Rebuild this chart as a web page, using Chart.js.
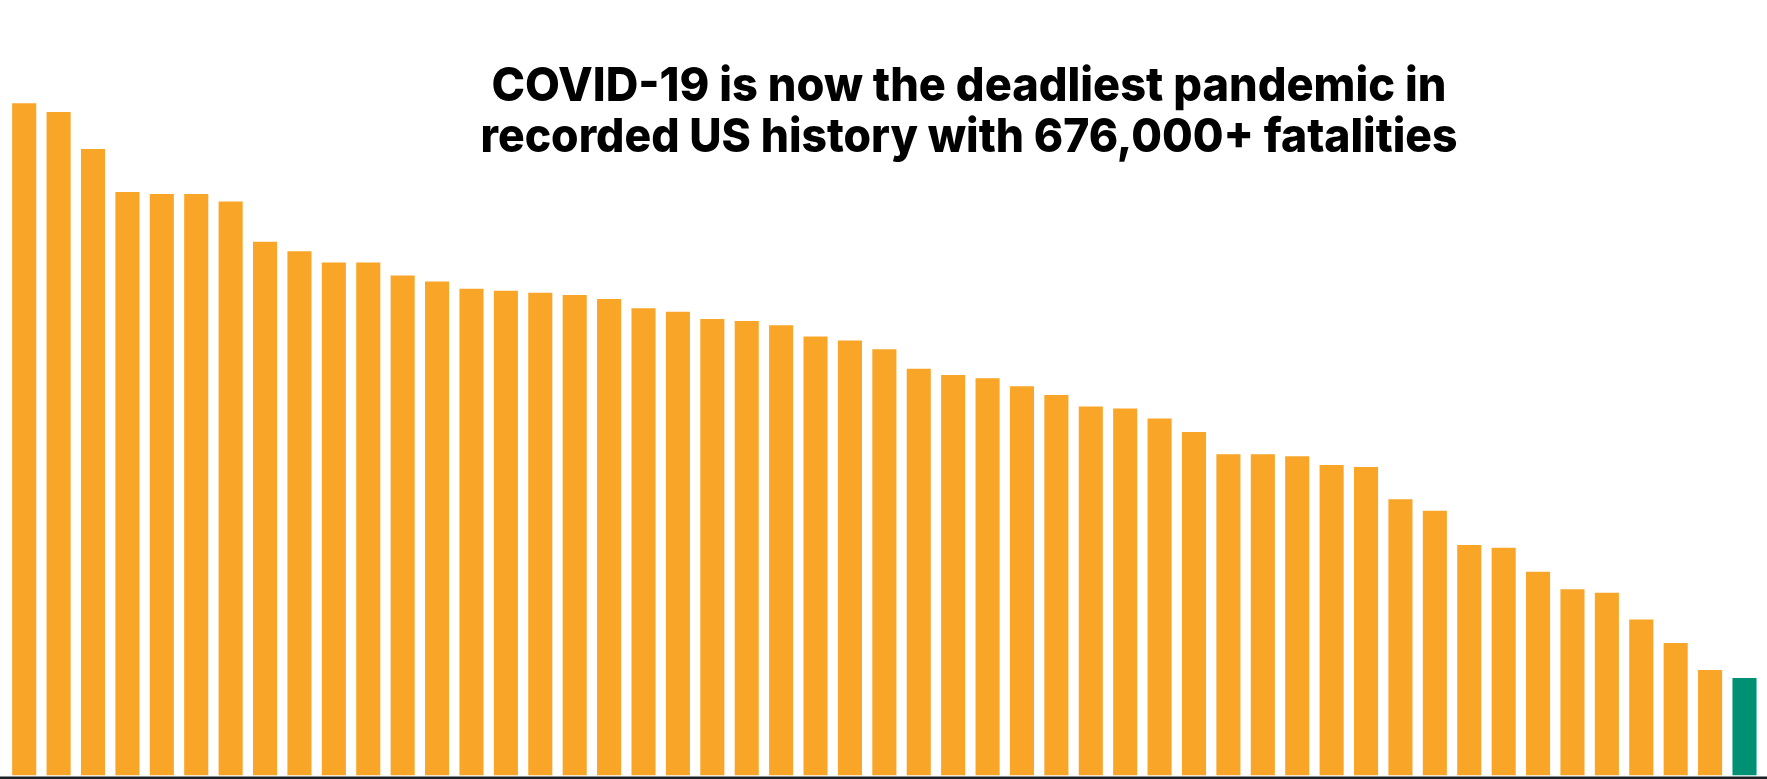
<!DOCTYPE html>
<html>
<head>
<meta charset="utf-8">
<script src="https://cdn.jsdelivr.net/npm/chart.js@4.4.1/dist/chart.umd.min.js"></script>
<style>
  html, body { margin: 0; padding: 0; background: #ffffff; }
  #wrap { position: relative; width: 1767px; height: 779px; overflow: hidden; }
  #c { position: absolute; left: 0; top: 0; }
  .tl {
    position: absolute; left: 269px; width: 1400px; text-align: center;
    font-family: Inter, "Open Sans", "DejaVu Sans", sans-serif; font-weight: 800;
    font-size: 47px; line-height: 47px; color: #000; white-space: nowrap;
    margin: 0; transform-origin: 50% 50%;
  }
  .tl span { display: inline-block; }
</style>
</head>
<body>
<div id="wrap">
  <canvas id="c" width="1767" height="779"></canvas>
  <div class="tl" id="t1" style="top:60px"><span>COVID-19 is now the deadliest pandemic in</span></div>
  <div class="tl" id="t2" style="top:111px"><span>recorded US history with 676,000+ fatalities</span></div>
</div>
<script>
// Categories (unlabelled in the original graphic)
const categories = ['1','2','3','4','5','6','7','8','9','10','11','12','13','14','15','16','17',
  '18','19','20','21','22','23','24','25','26','27','28','29','30','31','32','33','34',
  '35','36','37','38','39','40','41','42','43','44','45','46','47','48','49','50','51'];

// Relative bar values (tallest bar = 100)
const values = [100, 98.7, 93.2, 86.8, 86.5, 86.5, 85.4, 79.4, 78.0, 76.3, 76.3, 74.4, 73.5,
  72.4, 72.1, 71.8, 71.5, 70.9, 69.5, 69.0, 67.9, 67.6, 67.0, 65.3, 64.7, 63.4, 60.5,
  59.6, 59.1, 57.9, 56.6, 54.9, 54.6, 53.1, 51.1, 47.8, 47.8, 47.5, 46.2, 45.9, 41.1,
  39.4, 34.3, 33.9, 30.3, 27.7, 27.2, 23.2, 19.7, 15.7, 14.5];

// Which bars are highlighted (the last one)
const highlighted = ['51'];

const orange = '#F9A527';
const green = '#009174';
const barColors = categories.map(c => highlighted.includes(c) ? green : orange);

const baselinePlugin = {
  id: 'baseline',
  afterDatasetsDraw(chart) {
    const ctx = chart.ctx;
    const y = chart.scales.y.getPixelForValue(0);
    ctx.save();
    ctx.fillStyle = '#1c2126';
    ctx.fillRect(0, y + 1, chart.width, 2.5);
    ctx.restore();
  }
};

new Chart(document.getElementById('c'), {
  type: 'bar',
  data: {
    labels: categories,
    datasets: [{
      data: values,
      backgroundColor: barColors,
      borderWidth: 0,
      categoryPercentage: 1.0,
      barPercentage: 0.7
    }]
  },
  options: {
    responsive: false,
    animation: false,
    devicePixelRatio: 1,
    layout: { padding: { left: 7, right: 5.3, top: 0, bottom: 3.5 } },
    plugins: { legend: { display: false }, tooltip: { enabled: false }, title: { display: false } },
    scales: {
      x: { display: false },
      y: { display: false, min: 0, max: 115.37 }
    }
  },
  plugins: [baselinePlugin]
});

// Fit each heading line to the width it has in the original graphic
(function () {
  const fit = (id, target) => {
    const el = document.getElementById(id);
    const w = el.querySelector('span').getBoundingClientRect().width;
    el.style.transform = 'scaleX(' + (target / w) + ')';
  };
  fit('t1', 955);
  fit('t2', 977);
})();
</script>
</body>
</html>
